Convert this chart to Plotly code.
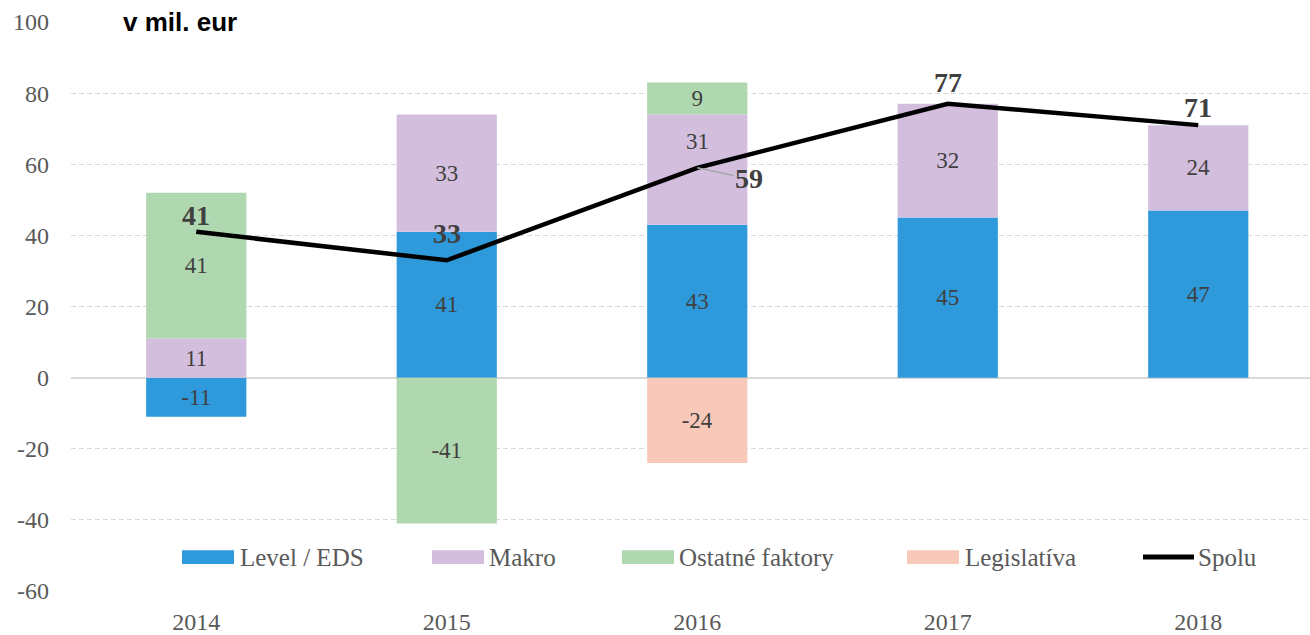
import plotly.graph_objects as go

years = ["2014", "2015", "2016", "2017", "2018"]
level_eds = [-11, 41, 43, 45, 47]
makro = [11, 33, 31, 32, 24]
ostatne = [41, -41, 9, 0, 0]
legislativa = [0, 0, -24, 0, 0]
spolu = [41, 33, 59, 77, 71]
y_ticks = [-60, -40, -20, 0, 20, 40, 60, 80, 100]

series_names = ["Level / EDS", "Makro", "Ostatné faktory", "Legislatíva"]
series_vals = [level_eds, makro, ostatne, legislativa]
colors = ["#2E9ADB", "#D3BFDD", "#B0D8B0", "#F8C9B8"]

SERIF = "Liberation Serif"
GREY = "#595959"
LBL = "#404040"

# layout geometry (pixels)
W, H = 1310, 635
ML, MR, MT, MB = 71, 0, 22, 42
PW = W - ML - MR
PH = H - MT - MB
CAT_PX = 250.5


def px_x(px):
    return (px - ML) / PW


def px_y(py):
    return (H - MB - py) / PH


fig = go.Figure()

# Makro label in 2016 is moved above the total line (as in the original)
moved = {("Makro", 2)}

annotations = []
for name, vals, col in zip(series_names, series_vals, colors):
    texts = []
    for i, v in enumerate(vals):
        if v == 0 or (name, i) in moved:
            texts.append("")
        else:
            texts.append(str(v))
    fig.add_trace(go.Bar(
        x=years, y=[v if v != 0 else None for v in vals], name=name,
        marker=dict(color=col, line=dict(width=0)),
        width=0.4,
        text=texts, texttemplate="%{text}", textposition="inside",
        insidetextanchor="middle", textangle=0, constraintext="none",
        textfont=dict(family=SERIF, size=23, color=LBL),
        showlegend=False, hoverinfo="skip",
    ))

# moved Makro 2016 label
annotations.append(dict(
    x=2, y=level_eds[2] + makro[2] / 2, xref="x", yref="y",
    text=str(makro[2]), showarrow=False, yshift=28,
    font=dict(family=SERIF, size=23, color=LBL),
))

fig.add_trace(go.Scatter(
    x=years, y=spolu, name="Spolu", mode="lines",
    line=dict(color="black", width=4.5), showlegend=False,
))

# total labels
offsets = [16, 27, None, 21, 18]
for i, v in enumerate(spolu):
    if offsets[i] is None:
        annotations.append(dict(
            x=i, y=v, xref="x", yref="y", text=f"<b>{v}</b>",
            showarrow=True, arrowhead=0, arrowwidth=1.5, arrowcolor="#A6A6A6",
            ax=52, ay=11, standoff=0,
            font=dict(family=SERIF, size=28, color=LBL),
        ))
    else:
        annotations.append(dict(
            x=i, y=v, xref="x", yref="y", text=f"<b>{v}</b>",
            showarrow=False, yshift=offsets[i],
            font=dict(family=SERIF, size=28, color=LBL),
        ))

# title
annotations.append(dict(
    x=px_x(121), y=px_y(22), xref="paper", yref="paper",
    xanchor="left", yanchor="middle", showarrow=False,
    text="<b>v mil. eur</b>",
    font=dict(family="Liberation Sans", size=26, color="black"),
))

# manual legend
shapes = []
leg_y0, leg_y1 = 552, 566
leg_cy = (leg_y0 + leg_y1) / 2
swatch_x = [182, 432, 622, 907]
text_x = [238, 487, 677, 963]
for name, col, sx, tx in zip(series_names, colors, swatch_x, text_x):
    shapes.append(dict(type="rect", xref="paper", yref="paper",
                       x0=px_x(sx), x1=px_x(sx + 52), y0=px_y(leg_y1), y1=px_y(leg_y0),
                       fillcolor=col, line=dict(width=0), layer="above"))
    annotations.append(dict(x=px_x(tx), y=px_y(leg_cy), xref="paper", yref="paper",
                            xanchor="left", yanchor="middle", showarrow=False,
                            text=name, font=dict(family=SERIF, size=25, color=GREY)))
shapes.append(dict(type="line", xref="paper", yref="paper",
                   x0=px_x(1143), x1=px_x(1194), y0=px_y(leg_cy), y1=px_y(leg_cy),
                   line=dict(color="black", width=5), layer="above"))
annotations.append(dict(x=px_x(1196), y=px_y(leg_cy), xref="paper", yref="paper",
                        xanchor="left", yanchor="middle", showarrow=False,
                        text="Spolu", font=dict(family=SERIF, size=25, color=GREY)))

fig.update_layout(
    width=W, height=H,
    margin=dict(l=ML, r=MR, t=MT, b=MB, pad=0),
    barmode="relative",
    plot_bgcolor="white", paper_bgcolor="white",
    showlegend=False,
    annotations=annotations, shapes=shapes,
    xaxis=dict(
        type="category", range=[-0.5, -0.5 + PW / CAT_PX],
        showgrid=False, showline=False, zeroline=False,
        ticks="", ticklabelstandoff=14,
        tickfont=dict(family=SERIF, size=24, color=GREY),
    ),
    yaxis=dict(
        range=[-60, 100], tickmode="array", tickvals=y_ticks,
        ticktext=[str(t) for t in y_ticks],
        showgrid=True, gridcolor="#D9D9D9", gridwidth=1, griddash="5px,3px",
        zeroline=True, zerolinecolor="#D9D9D9", zerolinewidth=2,
        showline=False, ticks="", ticklabelstandoff=21,
        tickfont=dict(family=SERIF, size=24, color=GREY),
    ),
)

fig.write_html(
    "out.html",
    config={"displayModeBar": False},
    post_script="document.body.style.margin='0';document.body.style.overflow='hidden';",
)
